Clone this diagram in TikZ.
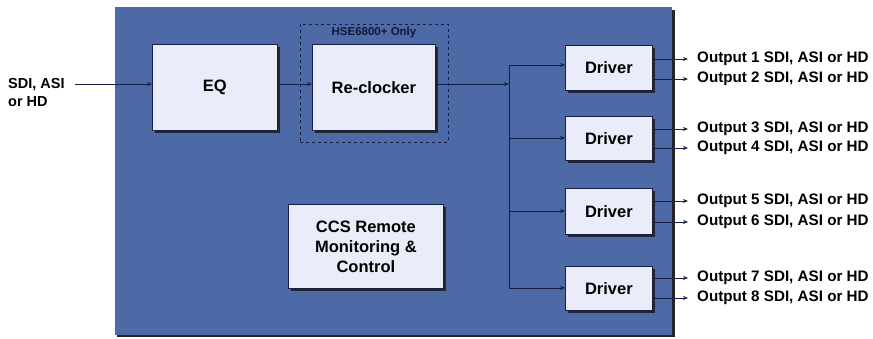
\documentclass[tikz,border=0pt]{standalone}
\usepackage{fontspec}
\setmainfont{Liberation Sans}
\usetikzlibrary{arrows.meta}
\definecolor{panel}{RGB}{78,106,166}
\definecolor{boxfill}{RGB}{234,236,250}
\definecolor{wire}{RGB}{22,32,70}
\tikzset{
  x=1pt,y=-1pt,
  blk/.style={draw=wire,line width=0.8pt,fill=boxfill,inner sep=0pt,anchor=north west,
    font=\bfseries\fontsize{16.5}{20}\selectfont,align=center},
  shadowbox/.style={fill=black!85,anchor=north west,inner sep=0pt},
  wireln/.style={draw=wire,line width=0.9pt},
  arr/.style={wireln,-{Stealth[length=5pt,width=4pt]}},
  outlbl/.style={anchor=west,font=\bfseries\fontsize{15.2}{17}\selectfont,inner sep=0pt},
}
\newcommand{\mkbox}[6]{% name, x, y, w, h, text
  \node[shadowbox,minimum width=#4pt,minimum height=#5pt] at (#2+3,#3+3) {};
  \node[blk,minimum width=#4pt,minimum height=#5pt] (#1) at (#2,#3) {#6};
}
\begin{document}
\begin{tikzpicture}
\useasboundingbox (0,0) rectangle (873,339);
\fill[white] (0,0) rectangle (873,339);
% panel
\fill[black!85] (117,10) rectangle (675,337);
\fill[panel] (115,7) rectangle (672,335);
% dashed option box
\node[draw=wire,dashed,line width=0.8pt,anchor=north west,minimum width=148pt,minimum height=118pt,inner sep=0pt] (opt) at (300,24) {};
\node[font=\bfseries\fontsize{11.5}{12}\selectfont,text=wire!80!black,inner sep=0pt] (optl) at (374,33) {HSE6800+ Only};
% blocks
\mkbox{eq}{152}{44}{125}{86}{EQ}
\mkbox{rc}{312}{44}{123}{86}{Re-clocker}
\mkbox{ccs}{288}{204}{155}{84}{CCS Remote\\Monitoring \&\\Control}
\mkbox{d1}{565}{45}{87}{45}{Driver}
\mkbox{d2}{565}{116}{87}{44}{Driver}
\mkbox{d3}{565}{188}{87}{46}{Driver}
\mkbox{d4}{565}{266}{87}{44}{Driver}
% input
\node[anchor=west,align=left,font=\bfseries\fontsize{14.5}{18}\selectfont,inner sep=0pt] (in) at (8,93) {SDI, ASI\\or HD};
\coordinate (inS) at (75,84);
\draw[arr] (inS) -- (eq.west |- inS);
\draw[arr] (eq.east |- inS) -- (rc.west |- inS);
\coordinate (bus) at (509,84);
\draw[arr] (rc.east |- inS) -- (bus);
\coordinate (bt) at (509,65);
\coordinate (bb) at (509,288);
\draw[wireln] (bt) -- (bb);
\draw[arr] (bt) -- (d1.west |- bt);
\draw[arr] (509,138) coordinate (b2) -- (d2.west |- b2);
\draw[arr] (509,211) coordinate (b3) -- (d3.west |- b3);
\draw[arr] (bb) -- (d4.west |- bb);
% outputs
\foreach \d/\ya/\yb/\na/\nb in {d1/59/79/1/2, d2/129/148/3/4, d3/201/222/5/6, d4/278/298/7/8}{
  \coordinate (o\na) at (688,\ya);
  \coordinate (o\nb) at (688,\yb);
  \draw[arr] (\d.east |- o\na) -- (o\na);
  \draw[arr] (\d.east |- o\nb) -- (o\nb);
  \node[outlbl] (t\na) at (697,\ya) {Output \na\ SDI, ASI or HD};
  \node[outlbl] (t\nb) at (697,\yb) {Output \nb\ SDI, ASI or HD};
}
\end{tikzpicture}
\end{document}
